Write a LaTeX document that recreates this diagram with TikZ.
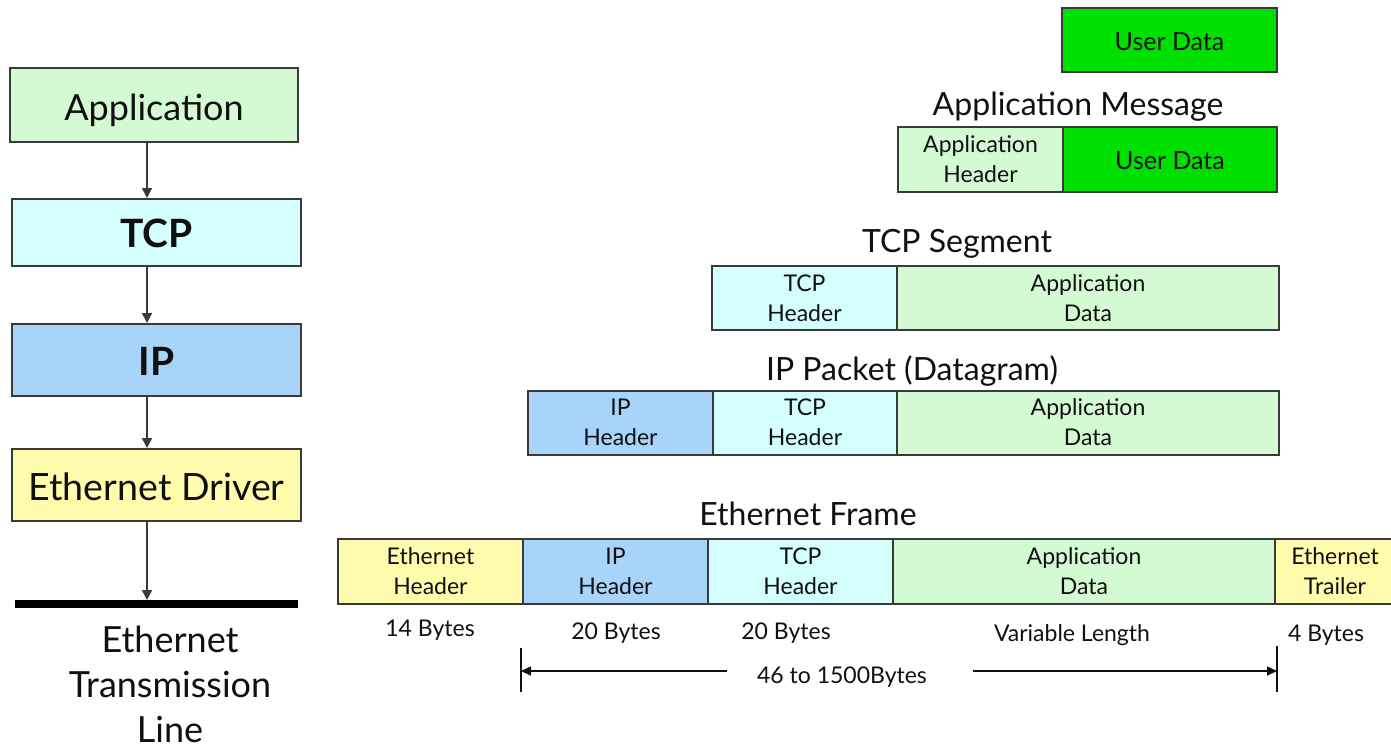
\documentclass[tikz,border=0pt]{standalone}
\usepackage{fontspec}
\setmainfont{Lato}
\usetikzlibrary{arrows.meta}

\definecolor{appgreen}{HTML}{D4FAD4}
\definecolor{tcpcyan}{HTML}{D4FFFF}
\definecolor{ipblue}{HTML}{A8D4FA}
\definecolor{ethyellow}{HTML}{FFFCAE}
\definecolor{userdata}{HTML}{00E000}
\definecolor{edge}{HTML}{3A3A3A}
\definecolor{ink}{HTML}{101010}

\tikzset{
  layerbox/.style={draw=edge, line width=1pt, inner sep=0pt, text=ink,
    text height=15pt, text depth=0pt, font=\fontsize{18}{20}\selectfont},
  boldlayer/.style={layerbox, font=\fontsize{19.5}{22}\selectfont\bfseries},
  cell/.style={draw=edge, line width=1pt, inner sep=0pt, align=center, text=ink,
    minimum height=32.5pt, font=\fontsize{11.5}{15}\selectfont},
  datacell/.style={cell, fill=userdata, text height=10pt, text depth=0pt,
    font=\fontsize{12.5}{15}\selectfont},
  title/.style={text=ink, font=\fontsize{16}{19}\selectfont},
  bytes/.style={text=ink, font=\fontsize{11.5}{14}\selectfont},
  flow/.style={draw=edge, line width=0.8pt, -{Triangle[width=5pt,length=5pt]}},
  span/.style={draw=ink, line width=0.8pt, -{Triangle[width=4.5pt,length=5pt]}},
}

\begin{document}
\begin{tikzpicture}[x=0.5pt, y=-0.5pt]
\useasboundingbox (0,0) rectangle (1391,750);

% ---- protocol stack ----
\node[layerbox, fill=appgreen, minimum width=144pt, minimum height=37pt] (app) at (154,105) {Application};
\node[boldlayer, fill=tcpcyan, minimum width=144.5pt, minimum height=33.5pt] (tcp) at (156.5,232.5) {TCP};
\node[boldlayer, fill=ipblue, minimum width=144.5pt, minimum height=36pt] (ip) at (156.5,360) {IP};
\node[layerbox, fill=ethyellow, minimum width=144.5pt, minimum height=36pt, font=\fontsize{18.8}{20}\selectfont] (eth) at (156.5,485) {Ethernet Driver};

\coordinate (axis) at (147,0);
\coordinate (wireL) at (15,604);
\coordinate (wireR) at (298,604);
\draw[line width=4pt] (wireL) -- (wireR);

\draw[flow] (app.south -| axis) -- (tcp.north -| axis);
\draw[flow] (tcp.south -| axis) -- (ip.north -| axis);
\draw[flow] (ip.south -| axis) -- (eth.north -| axis);
\draw[flow] (eth.south -| axis) -- ([yshift=2pt]wireL -| axis);

\node[title, align=center, font=\fontsize{18}{22.5}\selectfont] (medium) at (170,684) {Ethernet\\Transmission\\Line};

% ---- user data ----
\node[datacell, minimum width=107.5pt, minimum height=32pt] (ud) at (1169.5,40) {User Data};

% ---- application message ----
\node[title] (tmsg) at (1078,107) {Application Message};
\node[cell, fill=appgreen, minimum width=82.5pt] (msgh) at (980.5,159.5) {Application\\Header};
\node[datacell, minimum width=107pt] (msgd) at (1170,159.5) {User Data};

% ---- TCP segment ----
\node[title] (tseg) at (957,244) {TCP Segment};
\node[cell, fill=tcpcyan, minimum width=92.5pt, minimum height=32pt] (segh) at (804.5,298) {TCP\\Header};
\node[cell, fill=appgreen, minimum width=191pt, minimum height=32pt] (segd) at (1088,298) {Application\\Data};

% ---- IP packet ----
\node[title] (tpkt) at (912,371) {IP Packet (Datagram)};
\node[cell, fill=ipblue, minimum width=92.5pt, minimum height=32pt] (pkti) at (620.5,422.5) {IP\\Header};
\node[cell, fill=tcpcyan, minimum width=92pt, minimum height=32pt] (pktt) at (805,422.5) {TCP\\Header};
\node[cell, fill=appgreen, minimum width=191pt, minimum height=32pt] (pktd) at (1088,422.5) {Application\\Data};

% ---- Ethernet frame ----
\node[title] (tfrm) at (808,514) {Ethernet Frame};
\node[cell, fill=ethyellow, minimum width=92.5pt] (frme) at (430.5,571.5) {Ethernet\\Header};
\node[cell, fill=ipblue, minimum width=92.5pt] (frmi) at (615.5,571.5) {IP\\Header};
\node[cell, fill=tcpcyan, minimum width=92.5pt] (frmt) at (800.5,571.5) {TCP\\Header};
\node[cell, fill=appgreen, minimum width=191pt] (frmd) at (1084,571.5) {Application\\Data};
\node[cell, fill=ethyellow, minimum width=60pt] (frmr) at (1335,571.5) {Ethernet\\Trailer};

% ---- field sizes ----
\node[bytes] (b1) at (430,630) {14 Bytes};
\node[bytes] (b2) at (616,633) {20 Bytes};
\node[bytes] (b3) at (786,633) {20 Bytes};
\node[bytes] (b4) at (1072,635) {Variable Length};
\node[bytes] (b5) at (1326,635) {4 Bytes};

% ---- payload span ----
\coordinate (tickLt) at (521,648);
\coordinate (tickLb) at (521,692);
\coordinate (tickRt) at (1277,646);
\coordinate (tickRb) at (1277,692);
\draw[ink, line width=0.8pt] (tickLt) -- (tickLb);
\draw[ink, line width=0.8pt] (tickRt) -- (tickRb);
\node[bytes] (pay) at (842,677) {46 to 1500Bytes};
\coordinate (spanL) at (727,671);
\coordinate (spanR) at (973,671);
\draw[span] (spanL) -- (tickLt |- spanL);
\draw[span] (spanR) -- (tickRt |- spanR);
\end{tikzpicture}
\end{document}
